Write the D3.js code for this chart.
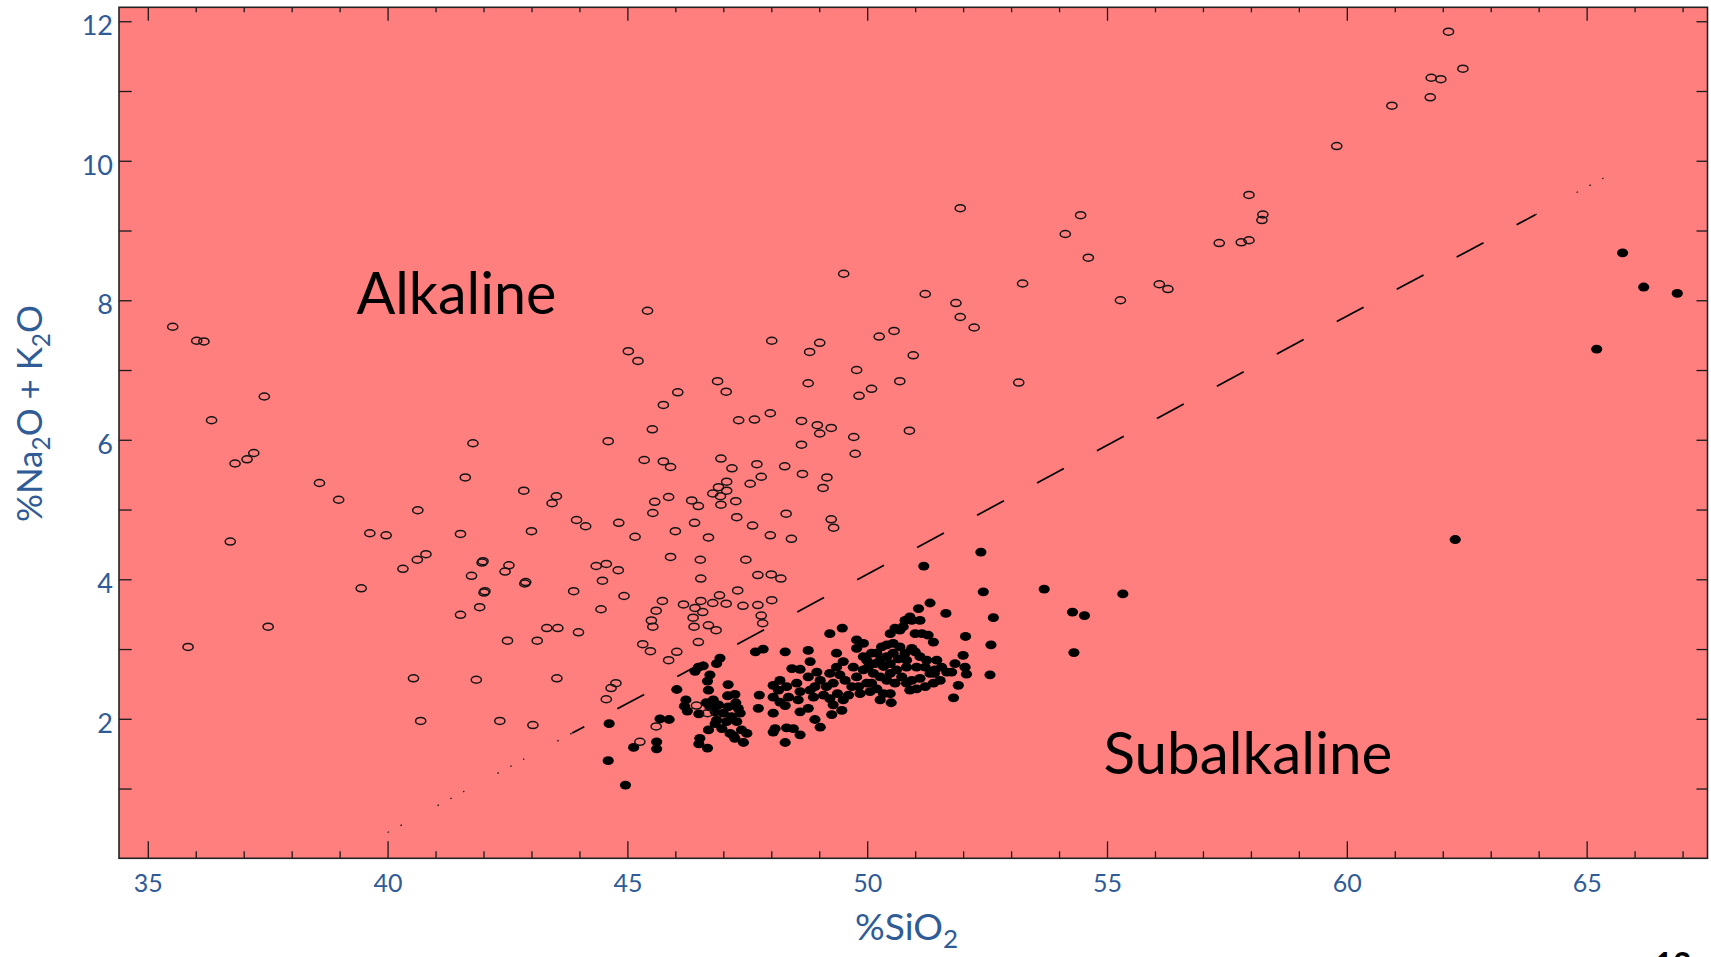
<!DOCTYPE html>
<html>
<head>
<meta charset="utf-8">
<title>Alkaline / Subalkaline – total alkali vs silica</title>
<script src="https://cdn.jsdelivr.net/npm/d3@7"></script>
<style>
  html, body { margin: 0; padding: 0; background: #ffffff; overflow: hidden; }
  svg { display: block; }
</style>
</head>
<body>
<svg id="chart" width="1711" height="957"></svg>
<script>
// ---------------------------------------------------------------------------
// Data: [SiO2 wt%, Na2O + K2O wt%]
// ---------------------------------------------------------------------------

// Samples plotting in the alkaline field (open symbols)
const alkalineSamples = [
  [35.52,7.62],[36.02,7.42],[36.17,7.41],[37.43,6.62],[36.33,6.28],[36.82,5.66],[37.07,5.72],[37.21,5.81],
  [36.72,4.54],[35.84,3.03],[37.51,3.32],[38.58,5.38],[38.98,5.14],[40.63,4.99],[39.63,4.66],[39.97,4.63],
  [40.32,4.15],[40.62,4.28],[40.80,4.36],[39.45,3.87],[41.78,5.95],[41.62,5.46],[41.52,4.65],[41.97,4.24],
  [41.99,4.26],[41.75,4.05],[42.01,3.81],[42.03,3.83],[41.92,3.60],[41.52,3.49],[42.84,5.27],[43.43,5.09],
  [43.52,5.19],[43.00,4.69],[42.53,4.20],[42.45,4.11],[42.86,3.94],[42.88,3.96],[43.94,4.85],[44.13,4.76],
  [44.82,4.81],[45.16,4.61],[44.60,5.98],[44.35,4.19],[44.56,4.22],[44.81,4.13],[44.48,3.98],[43.88,3.83],
  [44.93,3.76],[44.45,3.57],[43.32,3.30],[43.55,3.30],[43.98,3.24],[42.50,3.12],[43.12,3.12],[40.54,2.58],
  [41.85,2.56],[43.53,2.58],[40.69,1.97],[42.34,1.97],[43.03,1.91],[44.56,2.28],[44.66,2.44],[44.76,2.51],
  [45.26,1.67],[45.60,1.89],[45.32,3.07],[45.48,2.97],[45.86,2.84],[46.03,2.96],[45.50,3.41],[45.53,3.32],
  [45.60,3.55],[45.73,3.69],[46.17,3.64],[45.53,4.95],[45.57,5.11],[45.86,5.18],[46.00,4.69],[45.90,4.32],
  [45.35,5.71],[45.75,5.69],[45.90,5.61],[45.52,6.15],[45.75,6.50],[45.42,7.85],[45.02,7.27],[45.22,7.13],
  [46.05,6.68],[46.88,6.84],[48.77,6.81],[50.09,6.73],[49.83,6.63],[47.06,6.69],[47.32,6.28],[47.65,6.29],
  [47.98,6.38],[48.63,6.27],[48.96,6.21],[49.01,6.09],[49.25,6.17],[49.72,6.04],[49.75,5.80],[48.63,5.93],
  [46.95,5.73],[47.18,5.59],[47.70,5.65],[48.28,5.62],[47.79,5.47],[47.56,5.37],[48.65,5.51],[49.16,5.46],
  [49.08,5.31],[47.07,5.40],[46.90,5.32],[47.07,5.27],[46.78,5.23],[46.94,5.19],[46.95,5.07],[47.26,5.12],
  [46.34,5.13],[46.48,5.05],[46.40,4.81],[46.69,4.60],[47.28,4.89],[47.61,4.77],[48.31,4.94],[47.98,4.63],
  [48.42,4.58],[49.25,4.86],[49.30,4.74],[46.52,4.28],[47.47,4.28],[47.72,4.06],[48.00,4.07],[48.20,4.01],
  [46.53,4.01],[47.30,3.84],[46.92,3.77],[46.53,3.69],[46.41,3.59],[46.78,3.66],[47.06,3.65],[47.41,3.62],
  [47.72,3.63],[48.01,3.70],[46.57,3.53],[46.37,3.45],[46.39,3.32],[46.69,3.34],[46.85,3.27],[47.79,3.48],
  [47.82,3.37],[46.48,3.10],[46.44,2.19],[46.67,2.08],[51.94,9.32],[49.51,8.38],[51.21,8.09],[51.85,7.96],
  [51.94,7.76],[52.23,7.61],[50.25,7.48],[50.56,7.56],[50.96,7.21],[48.01,7.42],[49.01,7.39],[48.80,7.26],
  [49.78,7.00],[50.68,6.84],[50.88,6.13],[53.16,6.82],[54.45,9.22],[54.13,8.95],[54.61,8.61],[53.24,8.24],
  [55.28,8.00],[56.09,8.23],[56.27,8.16],[57.34,8.82],[57.80,8.83],[57.96,8.86],[58.25,9.23],[58.23,9.15],
  [57.96,9.51],[59.79,10.21],[60.94,10.79],[61.74,10.91],[61.76,11.19],[61.96,11.17],[62.42,11.32],[62.12,11.85]
];

// Samples plotting in the subalkaline field (filled symbols)
const subalkalineSamples = [
  [44.62,1.93],[44.60,1.40],[44.96,1.05],[45.13,1.59],[45.61,1.67],[45.61,1.57],[45.68,2.00],[45.87,1.99],
  [46.03,2.42],[46.22,2.27],[46.19,2.18],[46.25,2.11],[46.41,2.68],[46.58,2.76],[46.49,2.07],[46.51,1.72],
  [46.49,1.64],[46.67,1.58],[46.86,2.79],[46.93,2.87],[46.72,2.63],[46.67,2.54],[46.69,2.41],[46.79,2.27],
  [46.64,2.23],[47.10,2.49],[47.24,2.35],[47.09,2.33],[47.26,2.23],[47.10,2.17],[46.83,2.10],[47.00,2.08],
  [46.86,1.98],[47.07,1.96],[46.97,1.86],[47.17,2.03],[47.28,1.96],[47.35,2.08],[46.69,1.84],[47.21,1.76],
  [47.24,1.72],[47.42,1.66],[47.49,1.79],[47.38,1.84],[46.83,1.93],[46.72,2.17],[46.90,2.20],[47.31,2.15],
  [47.14,1.79],[46.48,2.74],
  [47.67,2.96],[47.83,3.00],[47.75,2.34],[47.73,2.15],[48.29,2.96],[48.77,2.98],[48.81,2.82],[49.22,3.22],
  [49.48,3.30],[48.43,2.72],[48.60,2.71],[48.18,2.55],[48.04,2.48],[48.15,2.41],[48.32,2.46],[48.53,2.51],
  [48.60,2.39],[48.36,2.31],[48.56,2.27],[48.77,2.60],[48.81,2.41],[48.95,2.67],[49.02,2.55],[48.91,2.46],
  [49.09,2.34],[48.88,2.31],[48.04,2.31],[48.18,2.24],[48.29,2.19],[48.04,2.08],[48.08,1.86],[48.04,1.81],
  [48.32,1.87],[48.46,1.86],[48.29,1.66],[48.60,1.77],[48.60,2.10],[48.77,2.15],[48.91,1.99],[49.02,1.88],
  [49.26,2.06],[49.47,2.12],[49.38,2.36],[49.22,2.29],[49.29,2.20],[49.50,2.27],[49.61,2.34],[49.68,2.46],
  [49.36,2.74],[49.50,2.82],[49.22,2.65],[49.43,2.63],[49.36,2.94],[49.78,3.01],[49.78,3.13],[49.92,3.08],
  [49.15,2.46],[49.29,2.51],[49.54,2.55],
  [49.82,2.46],[49.78,2.60],[49.71,2.74],[49.92,2.70],[49.99,2.84],[50.02,2.74],[50.13,2.65],[50.27,2.84],
  [50.20,2.94],[50.30,3.03],[50.41,3.06],[50.54,3.08],[50.48,3.22],[50.58,3.30],[50.68,3.27],[50.75,3.32],
  [50.79,3.41],[50.89,3.46],[51.07,3.58],[50.93,3.41],[51.10,3.41],[51.31,3.66],[51.64,3.51],[51.00,3.22],
  [51.14,3.22],[51.27,3.20],[51.38,3.10],[52.05,3.18],[50.41,2.89],[50.54,2.94],[50.68,3.03],[50.79,2.94],
  [50.93,3.01],[50.82,2.84],[50.34,2.75],[50.48,2.65],[50.58,2.51],[50.34,2.36],[50.48,2.36],[50.27,2.27],
  [50.50,2.23],[50.09,2.51],[50.20,2.43],[50.06,2.39],[50.82,2.74],[51.03,2.74],[51.21,2.74],[51.24,2.84],
  [51.31,2.65],[51.41,2.70],[51.55,2.74],[51.66,2.67],[51.76,2.67],[51.83,2.79],[52.00,2.91],[52.04,2.74],
  [52.07,2.64],[51.90,2.48],[51.80,2.30],[51.52,2.55],[51.38,2.51],[51.21,2.46],[51.03,2.43],[50.89,2.41],
  [50.82,2.51],[50.93,2.55],[51.10,2.58],[51.40,2.65],[50.27,2.60],[50.41,2.55],[50.61,2.70],[50.72,2.60],
  [50.16,2.79],[50.09,2.94],[49.92,2.89],[49.85,2.36],[49.99,2.51],[50.65,2.86],[50.48,2.79],[51.10,2.89],
  [51.00,2.96],[51.45,2.84],
  [52.37,4.39],[51.18,4.19],[52.42,3.82],[52.63,3.45],[52.58,3.06],[52.56,2.63],[53.69,3.86],
  [54.28,3.53],[54.53,3.48],[54.31,2.95],[55.33,3.79],[62.26,4.57],[65.21,7.30],[65.75,8.68],[66.19,8.19],
  [66.89,8.10]
];

// Alkaline / subalkaline dividing line (Na2O+K2O = 0.37 (SiO2 - 39)), end points
const boundaryLine = [[40.0, 0.37], [65.4, 9.77]];

// Axis ticks and labels
const xMinorTicks = d3.range(35, 68);
const xTickLabels = [35, 40, 45, 50, 55, 60, 65];
const yMinorTicks = d3.range(1, 13);
const yTickLabels = [2, 4, 6, 8, 10, 12];

// ---------------------------------------------------------------------------
// Layout
// ---------------------------------------------------------------------------
const plot = { left: 119, right: 1707.5, top: 7.3, bottom: 858.3 };
const FONT = "Lato, 'Open Sans', 'Noto Sans', sans-serif";
const AXIS_BLUE = "#2f5b97";

const svg = d3.select("#chart");

const x = d3.scaleLinear().domain([34.40, 67.52]).range([plot.left, plot.right]);
const y = d3.scaleLinear().domain([0, 12.2]).range([plot.bottom, plot.top]);

// Plot background
svg.append("rect")
  .attr("x", plot.left).attr("y", plot.top)
  .attr("width", plot.right - plot.left).attr("height", plot.bottom - plot.top)
  .attr("fill", "#ff7f7f");

// ---------------------------------------------------------------------------
// Dividing line, drawn as dashes; near both ends only specks of each dash show
// ---------------------------------------------------------------------------
const lineAt = d3.scaleLinear()
  .domain([boundaryLine[0][0], boundaryLine[1][0]])
  .range([boundaryLine[0][1], boundaryLine[1][1]]);

const dashPeriod = 1.25, dashLen = 0.56, dashPhase = 44.79;
const solidFrom = 43.85, solidTo = 63.93;
const lo = boundaryLine[0][0], hi = boundaryLine[1][0];
const pieces = [];
for (let k = Math.floor((lo - dashPhase) / dashPeriod) - 1; dashPhase + k * dashPeriod < hi; k++) {
  const a = Math.max(lo, dashPhase + k * dashPeriod);
  const b = Math.min(hi, dashPhase + k * dashPeriod + dashLen);
  if (b <= a) continue;
  const cuts = [a, b, solidFrom, solidTo].filter(v => v >= a && v <= b).sort((p, q) => p - q);
  const uniq = cuts.filter((v, i) => i === 0 || v > cuts[i - 1]);
  for (let i = 0; i < uniq.length - 1; i++) {
    const s = uniq[i], e = uniq[i + 1], mid = (s + e) / 2;
    pieces.push({ s, e, solid: mid >= solidFrom && mid <= solidTo });
  }
}
svg.append("g").attr("class", "boundary")
  .selectAll("line").data(pieces).join("line")
  .attr("x1", d => x(d.s)).attr("y1", d => y(lineAt(d.s)))
  .attr("x2", d => x(d.e)).attr("y2", d => y(lineAt(d.e)))
  .attr("stroke", "#000")
  .attr("stroke-width", d => d.solid ? 1.7 : 1.3)
  .attr("stroke-dasharray", d => d.solid ? null : "1.6 13")
  .attr("stroke-opacity", d => d.solid ? 1 : 0.85);

// ---------------------------------------------------------------------------
// Samples
// ---------------------------------------------------------------------------
svg.append("g").attr("class", "subalkaline")
  .selectAll("ellipse").data(subalkalineSamples).join("ellipse")
  .attr("cx", d => x(d[0])).attr("cy", d => y(d[1]))
  .attr("rx", 5.6).attr("ry", 4.4)
  .attr("fill", "#000");

svg.append("g").attr("class", "alkaline")
  .selectAll("ellipse").data(alkalineSamples).join("ellipse")
  .attr("cx", d => x(d[0])).attr("cy", d => y(d[1]))
  .attr("rx", 5.1).attr("ry", 3.5)
  .attr("fill", "none").attr("stroke", "#141414").attr("stroke-width", 1.5);

// ---------------------------------------------------------------------------
// Field names
// ---------------------------------------------------------------------------
function fitWidth(sel, target) {
  const w = sel.node().getComputedTextLength();
  const fs = parseFloat(sel.attr("font-size"));
  sel.attr("font-size", (fs * target / w).toFixed(2));
}

const alk = svg.append("text").attr("x", 356.4).attr("y", 314.3)
  .attr("font-family", FONT).attr("font-size", 56).attr("fill", "#000")
  .text("Alkaline");
fitWidth(alk, 200);

const sub = svg.append("text").attr("x", 1103.4).attr("y", 774.1)
  .attr("font-family", FONT).attr("font-size", 56).attr("fill", "#000")
  .text("Subalkaline");
fitWidth(sub, 289);

// ---------------------------------------------------------------------------
// Axes (ticks point into the plot on all four sides)
// ---------------------------------------------------------------------------
function styleTicks(g) {
  g.select(".domain").remove();
  g.selectAll("line").attr("stroke", "#1a1a1a").attr("stroke-width", 1.3);
}

// bottom
svg.append("g").attr("transform", `translate(0,${plot.bottom})`)
  .call(d3.axisBottom(x).tickValues(xMinorTicks).tickSizeInner(-7).tickSizeOuter(0).tickFormat(""))
  .call(styleTicks)
  .call(g => g.selectAll(".tick line").attr("y2", d => d % 5 === 0 ? -17 : -7));
// top
svg.append("g").attr("transform", `translate(0,${plot.top})`)
  .call(d3.axisTop(x).tickValues(xMinorTicks).tickSizeInner(-5).tickSizeOuter(0).tickFormat(""))
  .call(styleTicks)
  .call(g => g.selectAll(".tick line").attr("y2", d => d % 5 === 0 ? 13.5 : 5));
// left
svg.append("g").attr("transform", `translate(${plot.left},0)`)
  .call(d3.axisLeft(y).tickValues(yMinorTicks).tickSizeInner(-12.7).tickSizeOuter(0).tickFormat(""))
  .call(styleTicks);
// right
svg.append("g").attr("transform", `translate(${plot.right},0)`)
  .call(d3.axisRight(y).tickValues(yMinorTicks).tickSizeInner(-11).tickSizeOuter(0).tickFormat(""))
  .call(styleTicks);

// tick labels
svg.append("g").attr("transform", `translate(0,${plot.bottom})`)
  .call(d3.axisBottom(x).tickValues(xTickLabels).tickSize(0).tickPadding(15.5).tickFormat(d3.format("d")))
  .call(g => g.select(".domain").remove())
  .call(g => g.selectAll("text")
    .attr("font-family", FONT).attr("font-size", 25).attr("fill", AXIS_BLUE));

svg.append("g").attr("transform", `translate(${plot.left},0)`)
  .call(d3.axisLeft(y).tickValues(yTickLabels).tickSize(0).tickPadding(6).tickFormat(d3.format("d")))
  .call(g => g.select(".domain").remove())
  .call(g => g.selectAll("text")
    .attr("font-family", FONT).attr("font-size", 27).attr("fill", AXIS_BLUE)
    .attr("transform", "translate(0,5)"));

// frame
svg.append("rect")
  .attr("x", plot.left).attr("y", plot.top)
  .attr("width", plot.right - plot.left).attr("height", plot.bottom - plot.top)
  .attr("fill", "none").attr("stroke", "#222").attr("stroke-width", 1.6);

// ---------------------------------------------------------------------------
// Axis titles
// ---------------------------------------------------------------------------
const xTitle = svg.append("text").attr("x", 855).attr("y", 940)
  .attr("font-family", FONT).attr("font-size", 36).attr("fill", AXIS_BLUE);
xTitle.append("tspan").text("%SiO");
xTitle.append("tspan").attr("font-size", "70%").attr("dy", "0.32em").text("2");
fitWidth(xTitle, 103);

const yTitle = svg.append("text")
  .attr("transform", "translate(42,413.5) rotate(-90)")
  .attr("text-anchor", "middle")
  .attr("font-family", FONT).attr("font-size", 36).attr("fill", AXIS_BLUE);
yTitle.append("tspan").text("%Na");
yTitle.append("tspan").attr("font-size", "70%").attr("dy", "0.32em").text("2");
yTitle.append("tspan").attr("dy", "-0.22em").text("O + K");
yTitle.append("tspan").attr("font-size", "70%").attr("dy", "0.32em").text("2");
yTitle.append("tspan").attr("dy", "-0.22em").text("O");
fitWidth(yTitle, 217);

// page number
svg.append("text").attr("x", 1673).attr("y", 976)
  .attr("text-anchor", "middle")
  .attr("font-family", FONT).attr("font-size", 32).attr("font-weight", 700).attr("fill", "#000")
  .text("12");
</script>
</body>
</html>
